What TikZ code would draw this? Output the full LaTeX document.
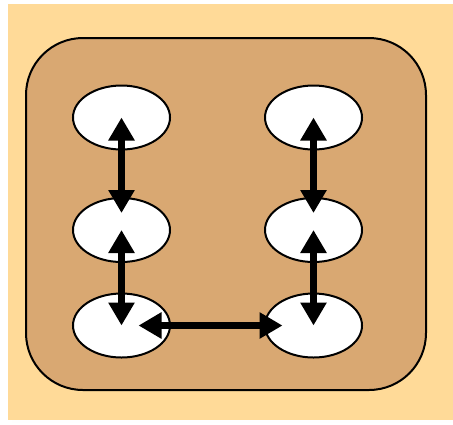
\documentclass[tikz,border=0pt]{standalone}
\usepackage{tikz}
\usepackage{xcolor}
\usetikzlibrary{shapes.geometric,arrows.meta}
\definecolor{paper}{HTML}{FFDA98}
\definecolor{board}{HTML}{D9A872}
\definecolor{shade}{HTML}{9C8C6E}
\tikzset{
	cell/.style={ellipse, draw, line width=2bp, fill=white, minimum width=97bp, minimum height=64bp, inner sep=0pt},
	link/.style={line width=7.5bp, {Triangle[width=25bp,length=23bp]}-{Triangle[width=25bp,length=23bp]}}
}
\begin{document}
\begin{tikzpicture}[x=1bp,y=-1bp]
				\useasboundingbox (0,0) rectangle (453,424);
				\fill[shade]    (12,8) rectangle (458,424);
				\fill[paper]    (8,4) rectangle (454,420);
				\draw [line width=2bp, fill=board, rounded corners=57bp] (26,38) rectangle (426,390);
				% nodes
				\node[cell] (tl) at (121.5,117.5) {};
				\node[cell] (ml) at (121.5,230) {};
				\node[cell] (bl) at (121.5,325.5) {};
				\node[cell] (tr) at (313.5,117.5) {};
				\node[cell] (mr) at (313.5,230) {};
				\node[cell] (br) at (313.5,325.5) {};
				% arrows
				\draw[link, shorten >=17bp] (tl.center) -- (ml.center);
				\draw[link] (ml.center) -- (bl.center);
				\draw[link, shorten >=17bp] (tr.center) -- (mr.center);
				\draw[link] (mr.center) -- (br.center);
				\draw[link, shorten <=17bp, shorten >=31bp] (bl.center) -- (br.center);
			\end{tikzpicture}
\end{document}
